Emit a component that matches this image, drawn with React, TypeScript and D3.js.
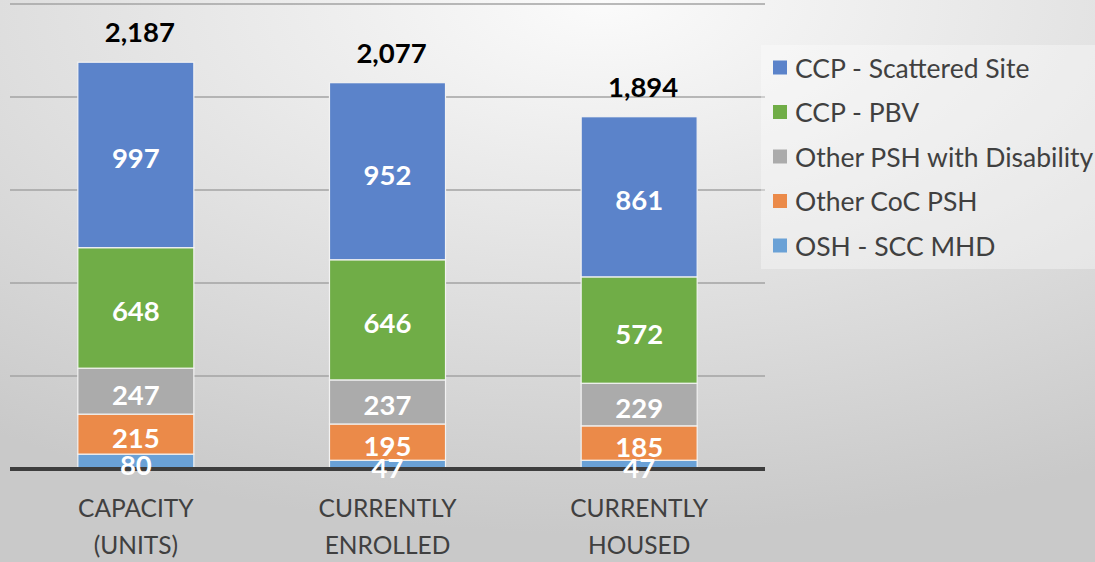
import React from "react";
import * as d3 from "d3";

const categories = [["CAPACITY", "(UNITS)"], ["CURRENTLY", "ENROLLED"], ["CURRENTLY", "HOUSED"]];
const seriesNames = ["OSH - SCC MHD", "Other CoC PSH", "Other PSH with Disability", "CCP - PBV", "CCP - Scattered Site"];
const seriesColors = ["#6AA1D6", "#EB8A49", "#ABABAB", "#70AD47", "#5B83CA"];
const oshScc = [80, 47, 47];
const otherCoc = [215, 195, 185];
const otherPshDis = [247, 237, 229];
const ccpPbv = [648, 646, 572];
const ccpScattered = [997, 952, 861];
const totals = [2187, 2077, 1894];
const gridTicks = [0, 500, 1000, 1500, 2000, 2500];

const W = 1095;
const H = 562;

export default function App() {
  const keys = categories.map((c) => c.join(" "));
  const x = d3.scaleBand().domain(keys).range([10, 765]).paddingInner(0.539).paddingOuter(0.2695);
  const y = d3.scaleLinear().domain([0, 2500]).range([469, 4]);
  const series = [oshScc, otherCoc, otherPshDis, ccpPbv, ccpScattered];
  const rows = keys.map((k, i) => {
    const r: any = { key: k };
    seriesNames.forEach((s, j) => (r[s] = series[j][i]));
    return r;
  });
  const stacked = d3.stack().keys(seriesNames)(rows);
  const font = "Lato, 'Open Sans', sans-serif";
  const legendOrder = [...seriesNames].reverse();

  return (
    <svg width={W} height={H} style={{ position: "absolute", left: 0, top: 0 }}>
      <defs>
        <radialGradient id="bg" cx="55%" cy="0%" r="95%" fx="55%" fy="0%">
          <stop offset="0%" stopColor="#fbfbfb" />
          <stop offset="100%" stopColor="#c9c9c9" />
        </radialGradient>
      </defs>
      <rect x={0} y={0} width={W} height={H} fill="url(#bg)" />
      {gridTicks.slice(1).map((t) => (
        <line key={t} x1={10} x2={765} y1={y(t)} y2={y(t)} stroke="#a3a3a3" strokeWidth={1.5} />
      ))}
      {stacked.map((s, j) => (
        <g key={s.key}>
          {s.map((d, i) => (
            <rect
              key={i}
              x={x(keys[i])}
              y={y(d[1])}
              width={x.bandwidth()}
              height={y(d[0]) - y(d[1])}
              fill={seriesColors[j]}
              stroke="#f2f2f2"
              strokeWidth={1.2}
            />
          ))}
        </g>
      ))}
      <line x1={10} x2={765} y1={469} y2={469} stroke="#3d3d3d" strokeWidth={4} />
      {stacked.map((s, j) =>
        s.map((d, i) => (
          <text
            key={`${j}-${i}`}
            x={(x(keys[i]) as number) + x.bandwidth() / 2}
            y={(y(d[0]) + y(d[1])) / 2 + 3}
            textAnchor="middle"
            dominantBaseline="central"
            fill="#fff"
            fontFamily={font}
            fontWeight="bold"
            fontSize={27.5}
          >
            {series[j][i]}
          </text>
        ))
      )}
      {totals.map((t, i) => (
        <text
          key={i}
          x={(x(keys[i]) as number) + x.bandwidth() / 2 + 4}
          y={y(t) - 20}
          textAnchor="middle"
          fill="#000"
          fontFamily={font}
          fontWeight="bold"
          fontSize={27.5}
        >
          {d3.format(",")(t)}
        </text>
      ))}
      {categories.map((c, i) => (
        <text
          key={i}
          x={(x(keys[i]) as number) + x.bandwidth() / 2}
          textAnchor="middle"
          fill="#404040"
          fontFamily={font}
          fontSize={24.5}
        >
          {c.map((line, k) => (
            <tspan key={k} x={(x(keys[i]) as number) + x.bandwidth() / 2} y={517 + k * 37}>
              {line}
            </tspan>
          ))}
        </text>
      ))}
      <rect x={761} y={45} width={W - 761} height={224} fill="#ffffff" fillOpacity={0.35} />
      {legendOrder.map((name, k) => {
        const cy = 67.5 + k * 44.5;
        const color = seriesColors[seriesNames.indexOf(name)];
        return (
          <g key={name}>
            <rect x={773} y={cy - 7} width={14} height={14} fill={color} />
            <text x={795} y={cy} dominantBaseline="central" fill="#404040" fontFamily={font} fontSize={26.5}>
              {name}
            </text>
          </g>
        );
      })}
    </svg>
  );
}
